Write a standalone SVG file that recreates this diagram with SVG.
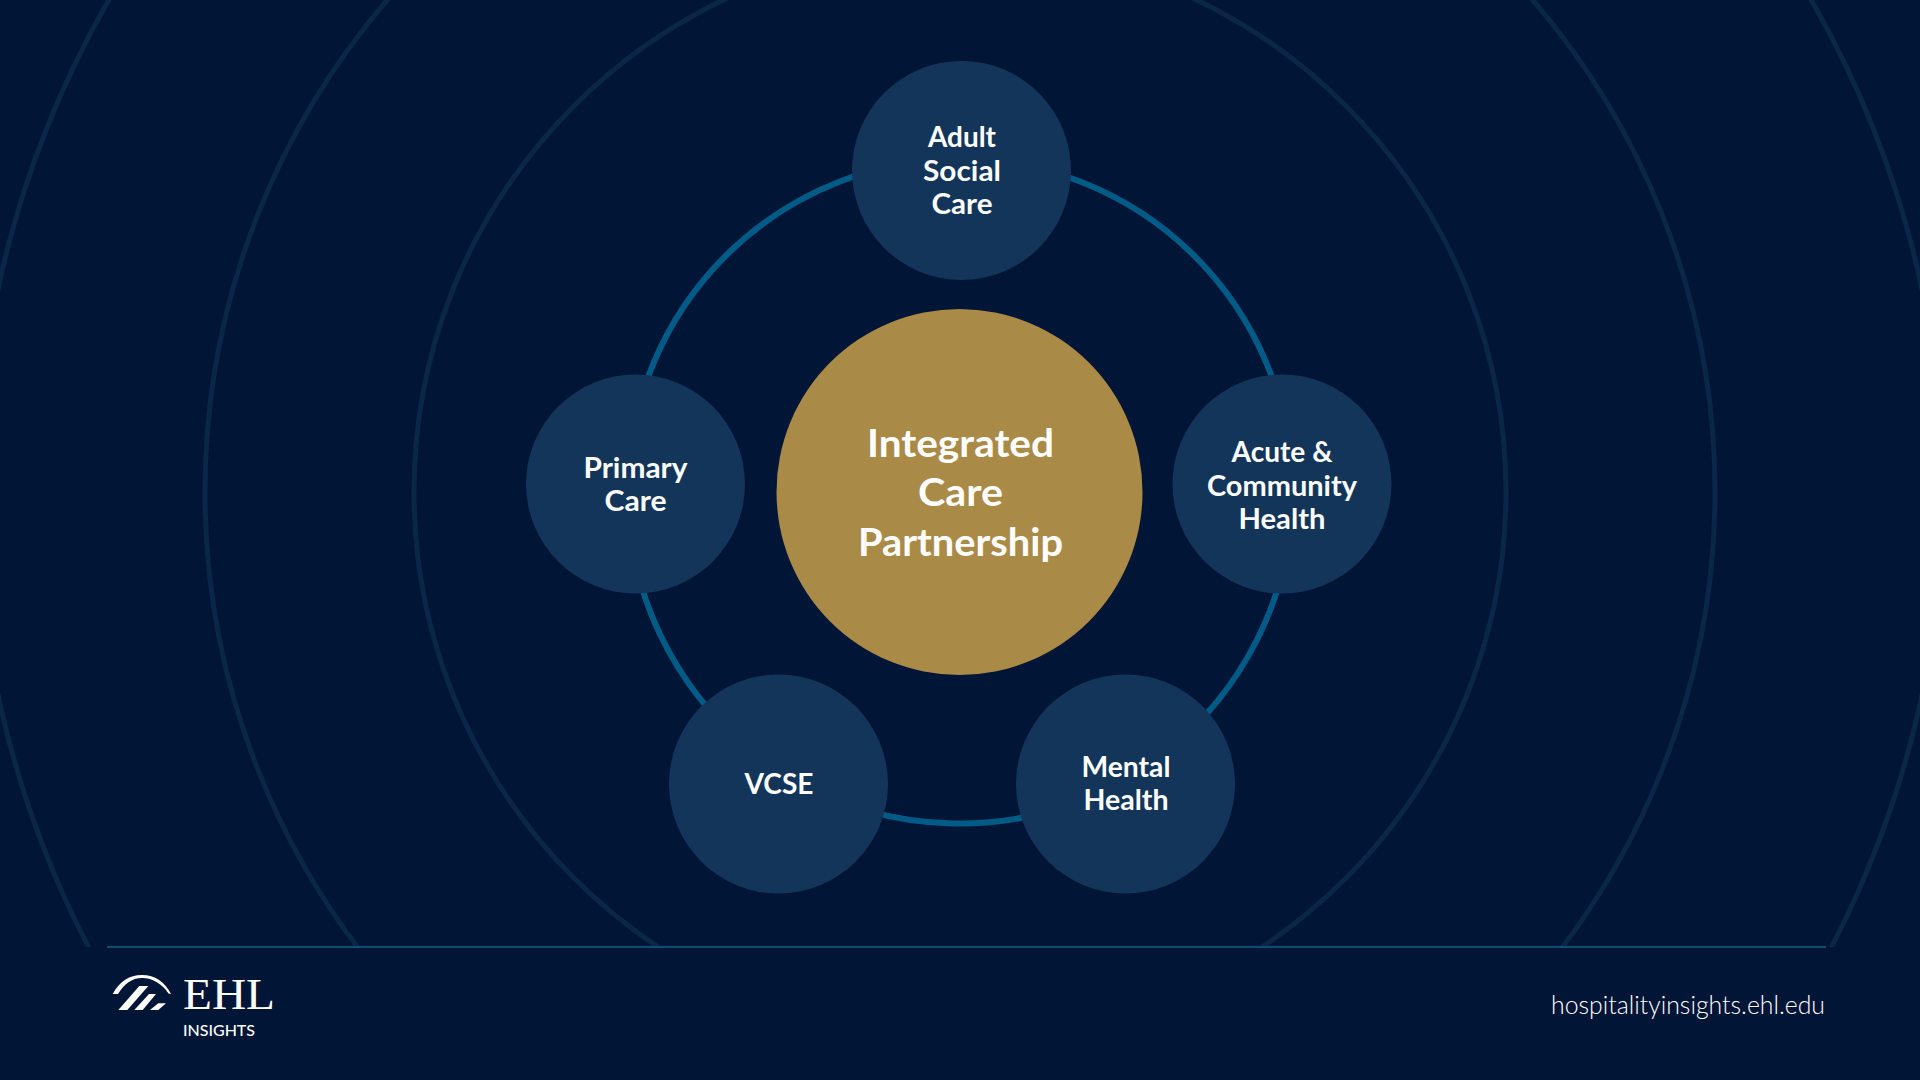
<svg xmlns="http://www.w3.org/2000/svg" width="1920" height="1080" viewBox="0 0 1920 1080">
<style>
text{font-family:"Lato","Noto Sans",sans-serif;fill:#fff;text-anchor:middle}
.n{fill:#13355a}
.l{font-size:28px;font-weight:700}
.c{font-size:39px;font-weight:700}
.bg{fill:none;stroke:#0a2748;stroke-width:5}
.arc{fill:none;stroke:#005c86;stroke-width:6}
</style>
<defs><clipPath id="top"><rect x="0" y="0" width="1920" height="947"/></clipPath></defs>
<rect id="background" width="1920" height="1080" fill="#011536"/>
<g id="rings" clip-path="url(#top)">
<circle class="bg" cx="960" cy="492" r="546"/>
<circle class="bg" cx="960" cy="492" r="755"/>
<circle class="bg" cx="960" cy="492" r="983"/>
</g>
<rect id="rule" x="107" y="946" width="1719" height="2" fill="#0b4f70"/>
<g id="connectors">
<path class="arc" d="M960 159A332 332 0 0 1 1292 484"/>
<path class="arc" d="M1292 484A332 332 0 0 1 1123 780.5"/>
<path class="arc" d="M1123 780.5A332 332 0 0 1 785 774"/>
<path class="arc" d="M785 774A332 332 0 0 1 628 484"/>
<path class="arc" d="M628 484A332 332 0 0 1 960 159"/>
</g>
<g id="node-centre">
<circle cx="959.5" cy="492" r="183" fill="#aa8a47"/>
<text class="c" x="960.5" y="456.5" textLength="187" lengthAdjust="spacingAndGlyphs">Integrated</text>
<text class="c" x="960.5" y="506" textLength="85" lengthAdjust="spacingAndGlyphs">Care</text>
<text class="c" x="960.5" y="555.5" textLength="205" lengthAdjust="spacingAndGlyphs">Partnership</text>
</g>
<g id="node-adult-social-care">
<circle class="n" cx="961.5" cy="170.5" r="109.5"/>
<text class="l" x="962" y="146.5" textLength="68" lengthAdjust="spacingAndGlyphs">Adult</text>
<text class="l" x="962" y="180.5" textLength="78" lengthAdjust="spacingAndGlyphs">Social</text>
<text class="l" x="962" y="214" textLength="61" lengthAdjust="spacingAndGlyphs">Care</text>
</g>
<g id="node-acute-community-health">
<circle class="n" cx="1282" cy="484" r="109.5"/>
<text class="l" x="1282" y="461.5" textLength="101" lengthAdjust="spacingAndGlyphs">Acute &amp;</text>
<text class="l" x="1282" y="495.5" textLength="150" lengthAdjust="spacingAndGlyphs">Community</text>
<text class="l" x="1282" y="529" textLength="87" lengthAdjust="spacingAndGlyphs">Health</text>
</g>
<g id="node-mental-health">
<circle class="n" cx="1125.5" cy="784" r="109.5"/>
<text class="l" x="1126" y="776.5" textLength="89" lengthAdjust="spacingAndGlyphs">Mental</text>
<text class="l" x="1126" y="810" textLength="85" lengthAdjust="spacingAndGlyphs">Health</text>
</g>
<g id="node-vcse">
<circle class="n" cx="778.5" cy="784" r="109.5"/>
<text class="l" x="779" y="793.5" textLength="69" lengthAdjust="spacingAndGlyphs">VCSE</text>
</g>
<g id="node-primary-care">
<circle class="n" cx="635.5" cy="484" r="109.5"/>
<text class="l" x="635.5" y="477.5" textLength="104" lengthAdjust="spacingAndGlyphs">Primary</text>
<text class="l" x="635.5" y="511" textLength="62" lengthAdjust="spacingAndGlyphs">Care</text>
</g>
<g id="logo">
<path fill="#fff" d="M112.7 994C119 982 129 975 142 975C155 975 165 982 171 994L168.5 993.500C162 984 153 978 142 978C132 978 124 984 118 994Z"/>
<path fill="#fff" d="M118.300 1010H127.300L148.300 986H139.300Z"/>
<path fill="#fff" d="M134.300 1010H142.700L156 994H149Z"/>
<path fill="#fff" d="M150 1010H158.300L166 1003.300H158.300Z"/>
<text x="229" y="1009" font-family="Liberation Serif" style="font-family:'Liberation Serif',serif;font-size:44px" textLength="92" lengthAdjust="spacingAndGlyphs">EHL</text>
<text x="219" y="1036" style="font-size:16px;font-weight:500" textLength="72" lengthAdjust="spacingAndGlyphs">INSIGHTS</text>
</g>
<text id="url" x="1688" y="1014" style="font-size:25px;font-weight:300" textLength="274" lengthAdjust="spacingAndGlyphs">hospitalityinsights.ehl.edu</text>
</svg>
